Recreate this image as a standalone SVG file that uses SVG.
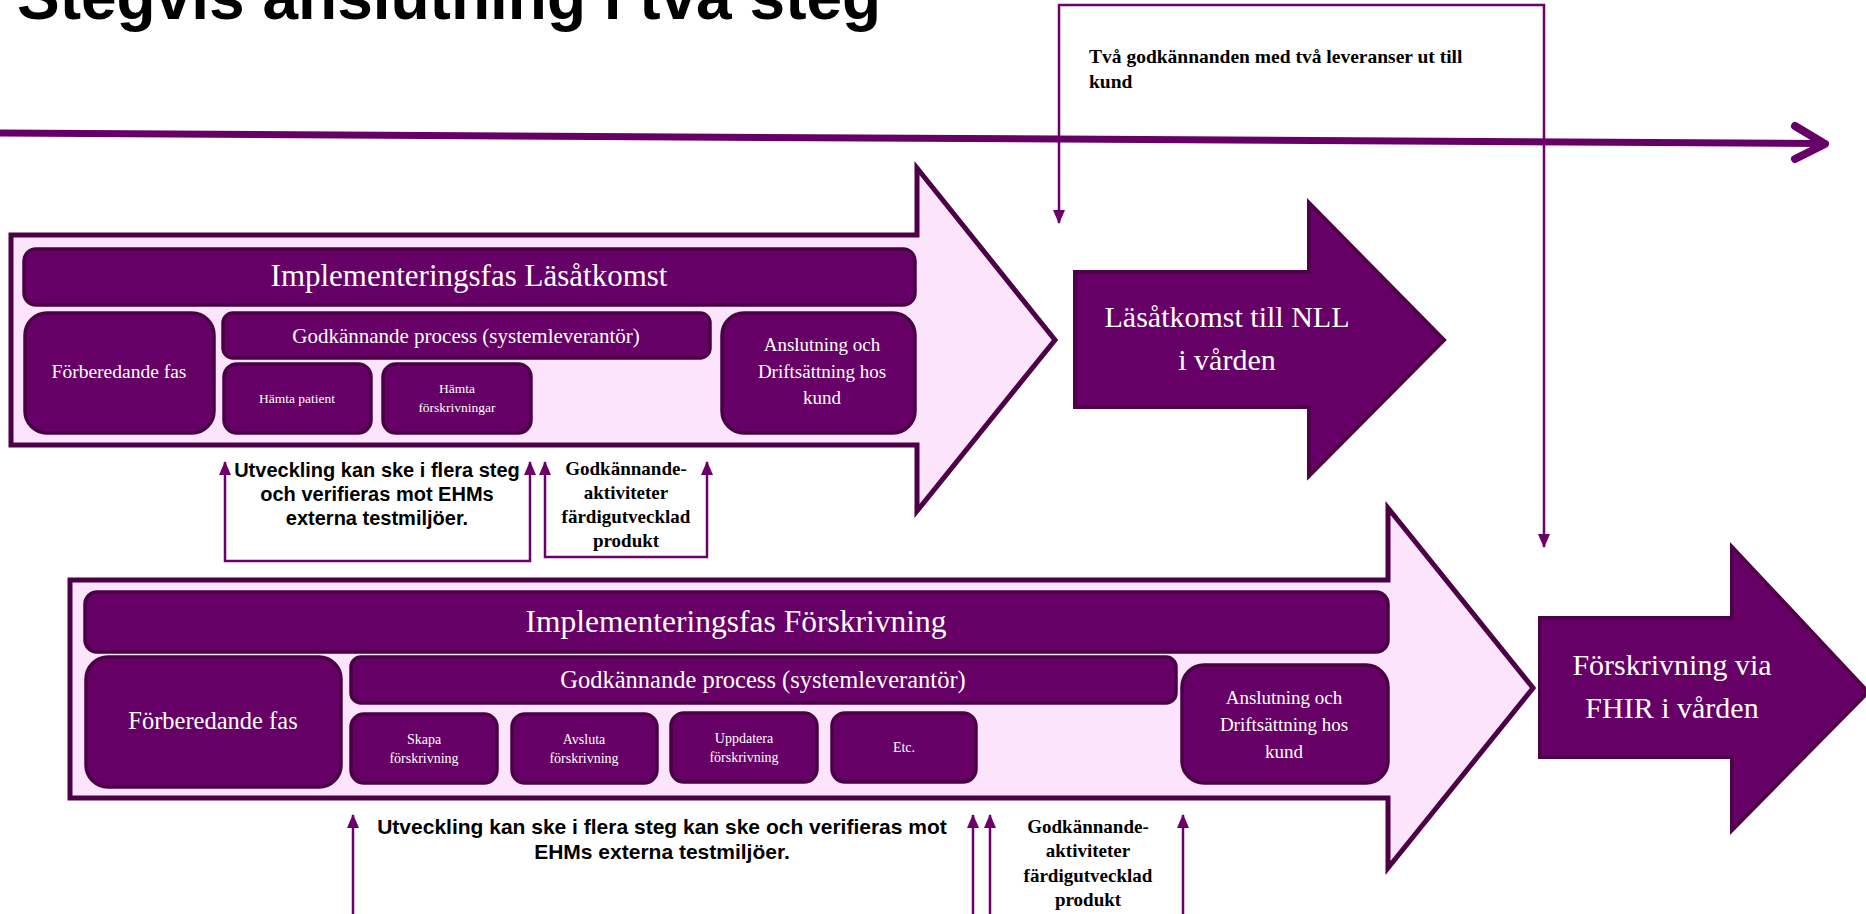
<svg xmlns="http://www.w3.org/2000/svg" width="1866" height="914" viewBox="0 0 1866 914">
<style>
.big{fill:#FDE4FD;stroke:#4C0046;stroke-width:5}
.box{fill:#660066;stroke:#4A0045;stroke-width:3.5}
.res{fill:#660066;stroke:#4F0048;stroke-width:4}
.wt{fill:#ffffff;font-family:"Liberation Serif",serif;text-anchor:middle}
.ann{fill:#000;font-family:"Liberation Sans",Arial,sans-serif;font-weight:bold;font-size:20px;text-anchor:middle}
.ann2{fill:#000;font-family:"Liberation Sans",Arial,sans-serif;font-weight:bold;font-size:21px;text-anchor:middle}
.annS{fill:#000;font-family:"Liberation Serif",serif;font-weight:bold;font-size:19px;text-anchor:middle}
.con{fill:none;stroke:#6B006B;stroke-width:2.5}
</style>
<defs>
<marker id="ah" markerUnits="userSpaceOnUse" markerWidth="14" markerHeight="14" refX="13" refY="6" orient="auto-start-reverse" viewBox="0 0 14 12">
<path d="M0,0 L14,6 L0,12 Z" fill="#6B006B"/>
</marker>
</defs>
<rect width="1866" height="914" fill="#ffffff"/>
<g id="title">
<text x="17" y="19" font-family="'Liberation Sans',Arial,sans-serif" font-weight="bold" font-size="64" fill="#000">Stegvis anslutning i två steg</text>
</g>
<g id="timeline">
<line x1="0" y1="133" x2="1822" y2="143.5" stroke="#660066" stroke-width="7"/>
<polyline points="1795,126 1825,144 1795,159" fill="none" stroke="#660066" stroke-width="8" stroke-linecap="round" stroke-linejoin="round"/>
</g>
<g id="phase1">
<path class="big" d="M11,235 H917 V168 L1055,340 L917,511 V445 H11 Z"/>
<g id="p1-title"><rect class="box" x="24" y="249" width="891" height="56" rx="12"/><text class="wt" x="469" y="286" font-size="31">Implementeringsfas Läsåtkomst</text></g>
<g id="p1-prep"><rect class="box" x="25" y="313" width="189" height="120" rx="22"/><text class="wt" x="119" y="378" font-size="19.5">Förberedande fas</text></g>
<g id="p1-proc"><rect class="box" x="223" y="313" width="487" height="45" rx="10"/><text class="wt" x="466" y="343" font-size="21">Godkännande process (systemleverantör)</text></g>
<g id="p1-patient"><rect class="box" x="224" y="364" width="147" height="69" rx="13"/><text class="wt" x="297" y="403" font-size="13.5">Hämta patient</text></g>
<g id="p1-fors"><rect class="box" x="383" y="364" width="148" height="69" rx="13"/><text class="wt" x="457" y="393" font-size="13.5">Hämta</text><text class="wt" x="457" y="412" font-size="13.5">förskrivningar</text></g>
<g id="p1-drift"><rect class="box" x="722" y="313" width="193" height="120" rx="22"/><text class="wt" x="822" y="351" font-size="19">Anslutning och</text><text class="wt" x="822" y="378" font-size="19">Driftsättning hos</text><text class="wt" x="822" y="404" font-size="19">kund</text></g>
</g>
<g id="result1">
<path class="res" d="M1075,272 H1309 V203 L1444,340 L1309,476 V407 H1075 Z"/>
<text class="wt" x="1227" y="327" font-size="30">Läsåtkomst till NLL</text>
<text class="wt" x="1227" y="370" font-size="30">i vården</text>
</g>
<g id="phase2">
<path class="big" d="M70,580 H1388 V508 L1533,688 L1388,868 V798 H70 Z"/>
<g id="p2-title"><rect class="box" x="85" y="592" width="1303" height="60" rx="12"/><text class="wt" x="736" y="632" font-size="31.5">Implementeringsfas Förskrivning</text></g>
<g id="p2-prep"><rect class="box" x="86" y="657" width="255" height="130" rx="22"/><text class="wt" x="213" y="729" font-size="24.5">Förberedande fas</text></g>
<g id="p2-proc"><rect class="box" x="351" y="657" width="825" height="46" rx="10"/><text class="wt" x="763" y="688" font-size="24.5">Godkännande process (systemleverantör)</text></g>
<g id="p2-skapa"><rect class="box" x="351" y="714" width="146" height="69" rx="13"/><text class="wt" x="424" y="744" font-size="14">Skapa</text><text class="wt" x="424" y="763" font-size="14">förskrivning</text></g>
<g id="p2-avsluta"><rect class="box" x="512" y="714" width="145" height="69" rx="13"/><text class="wt" x="584" y="744" font-size="14">Avsluta</text><text class="wt" x="584" y="763" font-size="14">förskrivning</text></g>
<g id="p2-uppdatera"><rect class="box" x="671" y="713" width="146" height="69" rx="13"/><text class="wt" x="744" y="743" font-size="14">Uppdatera</text><text class="wt" x="744" y="762" font-size="14">förskrivning</text></g>
<g id="p2-etc"><rect class="box" x="832" y="713" width="144" height="69" rx="13"/><text class="wt" x="904" y="752" font-size="14">Etc.</text></g>
<g id="p2-drift"><rect class="box" x="1182" y="665" width="206" height="118" rx="22"/><text class="wt" x="1284" y="704" font-size="19">Anslutning och</text><text class="wt" x="1284" y="731" font-size="19">Driftsättning hos</text><text class="wt" x="1284" y="758" font-size="19">kund</text></g>
</g>
<g id="result2">
<path class="res" d="M1540,618 H1732 V547 L1868,692 L1732,830 V757 H1540 Z"/>
<text class="wt" x="1672" y="675" font-size="30">Förskrivning via</text>
<text class="wt" x="1672" y="718" font-size="30">FHIR i vården</text>
</g>
<g id="connectors">
<path class="con" d="M1059,223 V5 H1544 V547" marker-start="url(#ah)" marker-end="url(#ah)"/>
<path class="con" d="M225,462 V561 H530 V462" marker-start="url(#ah)" marker-end="url(#ah)"/>
<path class="con" d="M545,462 V557 H707 V462" marker-start="url(#ah)" marker-end="url(#ah)"/>
<path class="con" d="M353,914 V815" marker-end="url(#ah)"/>
<path class="con" d="M973,914 V815" marker-end="url(#ah)"/>
<path class="con" d="M990,914 V815" marker-end="url(#ah)"/>
<path class="con" d="M1183,914 V815" marker-end="url(#ah)"/>
</g>
<g id="notes">
<text x="1089" y="63" font-family="'Liberation Serif',serif" font-weight="bold" font-size="19.5" fill="#000">Två godkännanden med två leveranser ut till</text>
<text x="1089" y="88" font-family="'Liberation Serif',serif" font-weight="bold" font-size="19.5" fill="#000">kund</text>
<text class="ann" x="377" y="477">Utveckling kan ske i flera steg</text>
<text class="ann" x="377" y="501">och verifieras mot EHMs</text>
<text class="ann" x="377" y="525">externa testmiljöer.</text>
<text class="annS" x="626" y="475">Godkännande-</text>
<text class="annS" x="626" y="499">aktiviteter</text>
<text class="annS" x="626" y="523">färdigutvecklad</text>
<text class="annS" x="626" y="547">produkt</text>
<text class="ann2" x="662" y="834">Utveckling kan ske i flera steg kan ske och verifieras mot</text>
<text class="ann2" x="662" y="859">EHMs externa testmiljöer.</text>
<text class="annS" x="1088" y="833">Godkännande-</text>
<text class="annS" x="1088" y="857">aktiviteter</text>
<text class="annS" x="1088" y="882">färdigutvecklad</text>
<text class="annS" x="1088" y="906">produkt</text>
</g>
</svg>
